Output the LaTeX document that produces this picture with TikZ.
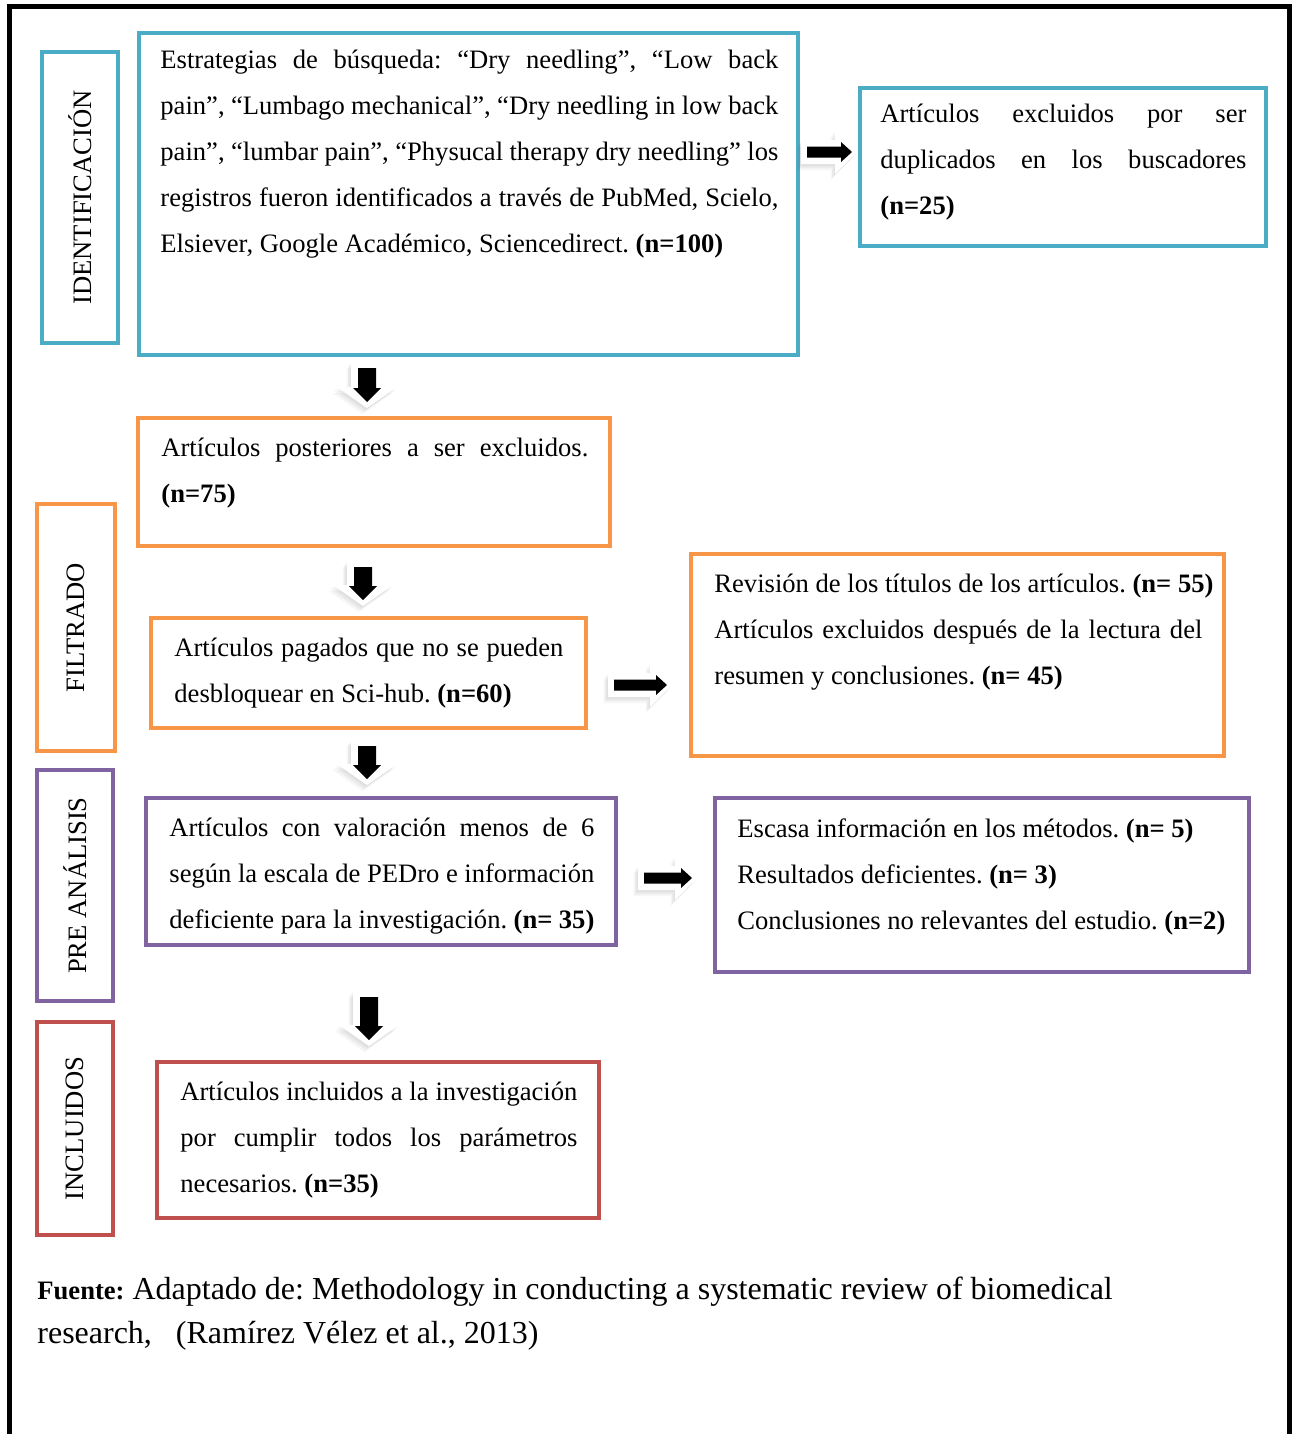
\documentclass[tikz,border=0pt]{standalone}
\usepackage{fontspec}
\setmainfont{Liberation Serif}
\frenchspacing
\definecolor{cyanb}{HTML}{4BACC6}
\definecolor{orangeb}{HTML}{F79646}
\definecolor{purpleb}{HTML}{8064A2}
\definecolor{redb}{HTML}{C0504D}
\newcommand\fs{\fontsize{13.3}{23}\selectfont}
\newcommand\jl[1]{\makebox[\hsize][s]{#1}}
% box: name, colour, x1, y1, x2, y2, line width
\newcommand\bx[7]{\node[draw=#2, line width=#7, inner sep=0pt, outer sep=0pt,
  minimum width={(#5-#3)*0.5pt}, minimum height={(#6-#4)*0.5pt}] (#1) at ({(#3+#5)/2},{(#4+#6)/2}) {};}
% text: name, x, baseline, width, content
\newcommand\tx[5]{\node[anchor=base west, inner sep=0pt, text width=#4, align=justify, font=\fs] (#1) at (#2,#3) {#5};}
% down block arrow shape: style, cx, top, tip, shafthalf, headhalf, headlen
\newcommand\dnshape[7]{\fill[#1] ({#2-#5},{#3}) -- ({#2+#5},{#3}) -- ({#2+#5},{#4-#7}) -- ({#2+#6},{#4-#7}) -- ({#2},{#4}) -- ({#2-#6},{#4-#7}) -- ({#2-#5},{#4-#7}) -- cycle;}
\newcommand\dnarrow[3]{%
 \dnshape{black!60,opacity=.06}{#1-4.5}{#2+6}{#3+6}{16}{30}{21}
 \dnshape{black!60,opacity=.07}{#1-3}{#2+4}{#3+4}{16}{30}{21}
 \dnshape{black!60,opacity=.08}{#1-1.5}{#2+2}{#3+2}{16}{30}{21}
 \dnshape{white}{#1}{#2}{#3}{16}{30}{21}
 \dnshape{black}{#1}{#2+6}{#3-6}{9}{14}{14}}
% right block arrow shape: style, cy, left, tip, shafthalf, headhalf, headlen
\newcommand\rtshape[7]{\fill[#1] ({#3},{#2-#5}) -- ({#4-#7},{#2-#5}) -- ({#4-#7},{#2-#6}) -- ({#4},{#2}) -- ({#4-#7},{#2+#6}) -- ({#4-#7},{#2+#5}) -- ({#3},{#2+#5}) -- cycle;}
\newcommand\rtarrow[3]{%
 \rtshape{black!60,opacity=.06}{#1+6}{#2-4.5}{#3-4.5}{12}{22}{22}
 \rtshape{black!60,opacity=.07}{#1+4}{#2-3}{#3-3}{12}{22}{22}
 \rtshape{black!60,opacity=.08}{#1+2}{#2-1.5}{#3-1.5}{12}{22}{22}
 \rtshape{white}{#1}{#2}{#3}{12}{22}{22}
 \rtshape{black}{#1}{#2+6}{#3-5}{5.5}{10}{11}}

\begin{document}
\begin{tikzpicture}[x=0.5pt,y=-0.5pt]
\useasboundingbox (0,0) rectangle (1296,1434);
\fill[white] (0,0) rectangle (1296,1434);
% outer frame (open at the bottom)
\draw[line width=2.5pt] (9,1450) -- (9,7) -- (1289,7) -- (1289,1450);

% ---------- boxes ----------
\bx{idlab}{cyanb}{42}{52}{118}{343}{1.6pt}
\bx{ident}{cyanb}{139}{33}{798}{355}{1.6pt}
\bx{dup}{cyanb}{860}{88}{1266}{246}{1.6pt}
\bx{or1}{orangeb}{138}{418}{610}{546}{2.2pt}
\bx{filt}{orangeb}{37}{504}{115}{751}{2.2pt}
\bx{or2}{orangeb}{151}{618}{586}{728}{2.2pt}
\bx{or3}{orangeb}{691}{554}{1224}{756}{2.2pt}
\bx{prelab}{purpleb}{37}{770}{113}{1001}{2.2pt}
\bx{pu1}{purpleb}{146}{798}{616}{945}{2.2pt}
\bx{pu2}{purpleb}{715}{798}{1249}{972}{2.2pt}
\bx{inclab}{redb}{37}{1022}{113}{1235}{2.2pt}
\bx{red}{redb}{157}{1062}{599}{1218}{2.2pt}

% ---------- vertical labels ----------
\node[rotate=90, font=\fs, inner sep=0pt] (lab1) at (idlab.center) {IDENTIFICACIÓN};
\node[rotate=90, font=\fs, inner sep=0pt] (lab2) at (filt.center) {FILTRADO};
\node[rotate=90, font=\fs, inner sep=0pt] (lab3) at (prelab.center) {PRE ANÁLISIS};
\node[rotate=90, font=\fs, inner sep=0pt] (lab4) at (inclab.center) {INCLUIDOS};

% ---------- texts ----------
\tx{tident}{160}{69}{309pt}{%
\jl{Estrategias de búsqueda: “Dry needling”, “Low back}\\
\jl{pain”, “Lumbago mechanical”, “Dry needling in low back}\\
\jl{pain”, “lumbar pain”, “Physucal therapy dry needling” los}\\
\jl{registros fueron identificados a través de PubMed, Scielo,}\\
Elsiever, Google Académico, Sciencedirect. \textbf{(n=100)}}

\tx{tdup}{880}{123}{183pt}{%
\jl{Artículos excluidos por ser}\\
\jl{duplicados en los buscadores}\\
\textbf{(n=25)}}

\tx{tor1}{161}{456}{213.5pt}{%
\jl{Artículos posteriores a ser excluidos.}\\
\textbf{(n=75)}}

\tx{tor2}{174}{656}{194.5pt}{%
\jl{Artículos pagados que no se pueden}\\
desbloquear en Sci-hub. \textbf{(n=60)}}

\tx{tor3}{714}{592}{258pt}{%
Revisión de los títulos de los artículos. \textbf{(n= 55)}\\
\makebox[244pt][s]{Artículos excluidos después de la lectura del}\\
resumen y conclusiones. \textbf{(n= 45)}}

\tx{tpu1}{169}{836}{212.5pt}{%
\jl{Artículos con valoración menos de 6}\\
\jl{según la escala de PEDro e información}\\
deficiente para la investigación. \textbf{(n= 35)}}

\tx{tpu2}{737}{837}{262pt}{%
Escasa información en los métodos. \textbf{(n= 5)}\\
Resultados deficientes. \textbf{(n= 3)}\\
Conclusiones no relevantes del estudio. \textbf{(n=2)}}

\tx{tred}{180}{1100}{198.5pt}{%
\jl{Artículos incluidos a la investigación}\\
\jl{por cumplir todos los parámetros}\\
necesarios. \textbf{(n=35)}}

\node[anchor=base west, inner sep=0pt, text width=625pt, align=justify,
  font=\fontsize{16}{22}\selectfont] (cap) at (37,1299) {%
{\fontsize{13.3}{22}\selectfont\bfseries Fuente:} Adaptado de: Methodology in conducting a systematic review of biomedical\\
research,\hspace{8pt} (Ramírez Vélez et al., 2013)};

% ---------- block arrows ----------
\dnarrow{367}{362}{408}
\dnarrow{363}{561}{606}
\dnarrow{367}{740}{785}
\dnarrow{369}{991}{1046}
\rtarrow{152}{801}{857}
\rtarrow{685}{608}{672}
\rtarrow{878}{638}{697}
\end{tikzpicture}
\end{document}
